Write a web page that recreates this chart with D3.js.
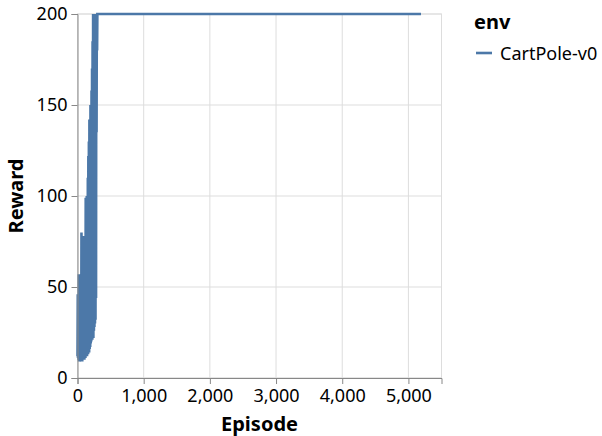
<!DOCTYPE html>
<html>
<head>
<meta charset="utf-8">
<script src="https://cdn.jsdelivr.net/npm/d3@7"></script>
<style>
  body { margin: 0; background: #fff; }
  text { font-family: "Noto Sans", "Open Sans", sans-serif; fill: #000; }
</style>
</head>
<body>
<script>
// episodes (sparse where the curve is flat)
const episodes = [0, 4, 8, 12, 16, 20, 24, 28, 32, 36, 40, 44, 48, 52, 56, 60,
  64, 68, 72, 76, 80, 84, 88, 92, 96, 100, 104, 108, 112, 116, 120, 124,
  128, 132, 136, 140, 144, 148, 152, 156, 160, 164, 168, 172, 176, 180, 184, 188,
  192, 196, 200, 204, 208, 212, 216, 220, 224, 228, 232, 236, 240, 244, 248, 252,
  256, 260, 264, 268, 272, 276, 280, 284, 288, 292, 296, 300, 5190];
const rewards = [12, 46, 11, 38, 10, 57, 9, 42, 10, 55, 9, 48, 10, 36, 9, 80,
  10, 65, 9, 52, 11, 78, 10, 47, 11, 73, 10, 62, 12, 70, 11, 99,
  12, 85, 13, 100, 12, 92, 14, 110, 13, 122, 15, 130, 14, 142, 16, 138,
  17, 150, 19, 140, 20, 158, 22, 170, 21, 185, 23, 200, 22, 195, 26, 200,
  28, 200, 30, 200, 32, 200, 44, 200, 135, 200, 180, 200, 200];
const envName = "CartPole-v0";
const xTicks = [0, 1000, 2000, 3000, 4000, 5000];
const yTicks = [0, 50, 100, 150, 200];

const W = 602, H = 436;
const mLeft = 77.5, mTop = 14, pw = 364, ph = 364;

let svg = d3.select("body").append("svg")
    .attr("width", W)
    .attr("height", H);

let x = d3.scaleLinear().domain([0, 5500]).range([mLeft, mLeft + pw]);
let y = d3.scaleLinear().domain([0, 200]).range([mTop + ph, mTop]);

// grid
let g = svg.append("g");
g.selectAll("line.gx").data(xTicks).enter().append("line")
    .attr("x1", d => x(d)).attr("x2", d => x(d))
    .attr("y1", mTop).attr("y2", mTop + ph)
    .attr("stroke", "#ddd").attr("stroke-width", 1);
g.selectAll("line.gy").data(yTicks).enter().append("line")
    .attr("x1", mLeft).attr("x2", mLeft + pw)
    .attr("y1", d => y(d)).attr("y2", d => y(d))
    .attr("stroke", "#ddd").attr("stroke-width", 1);
g.append("rect")
    .attr("x", mLeft).attr("y", mTop).attr("width", pw).attr("height", ph)
    .attr("fill", "none").attr("stroke", "#ddd");

// line
let pts = episodes.map((e, i) => [e, rewards[i]]);
svg.append("path")
    .datum(pts)
    .attr("fill", "none")
    .attr("stroke", "#4c78a8")
    .attr("stroke-width", 2.6)
    .attr("d", d3.line().x(d => x(d[0])).y(d => y(d[1])));

// axes
let xAxis = svg.append("g")
    .attr("transform", "translate(0," + (mTop + ph) + ")")
    .call(d3.axisBottom(x).tickValues(xTicks).tickFormat(d3.format(",")).tickSize(6).tickPadding(5));
let yAxis = svg.append("g")
    .attr("transform", "translate(" + mLeft + ",0)")
    .call(d3.axisLeft(y).tickValues(yTicks).tickSize(6).tickPadding(4));

[xAxis, yAxis].forEach(a => {
  a.select(".domain").attr("stroke", "#888");
  a.selectAll(".tick line").attr("stroke", "#888");
  a.selectAll(".tick text")
    .attr("font-family", "Noto Sans, Open Sans, sans-serif")
    .attr("font-size", 18).attr("fill", "#000");
});

svg.append("text")
    .attr("x", mLeft + pw / 2).attr("y", 430.5)
    .attr("text-anchor", "middle")
    .attr("font-size", 20).attr("font-weight", "bold")
    .text("Episode");
svg.append("text")
    .attr("transform", "translate(23," + (mTop + ph / 2) + ") rotate(-90)")
    .attr("text-anchor", "middle")
    .attr("font-size", 20).attr("font-weight", "bold")
    .text("Reward");

// legend
let lg = svg.append("g").attr("transform", "translate(474,0)");
lg.append("text").attr("x", 0).attr("y", 29)
    .attr("font-size", 20).attr("font-weight", "bold").text("env");
lg.append("line")
    .attr("x1", 2).attr("x2", 18).attr("y1", 53).attr("y2", 53)
    .attr("stroke", "#4c78a8").attr("stroke-width", 2.6);
lg.append("text").attr("x", 26).attr("y", 59.5)
    .attr("font-size", 18).text(envName);
</script>
</body>
</html>
